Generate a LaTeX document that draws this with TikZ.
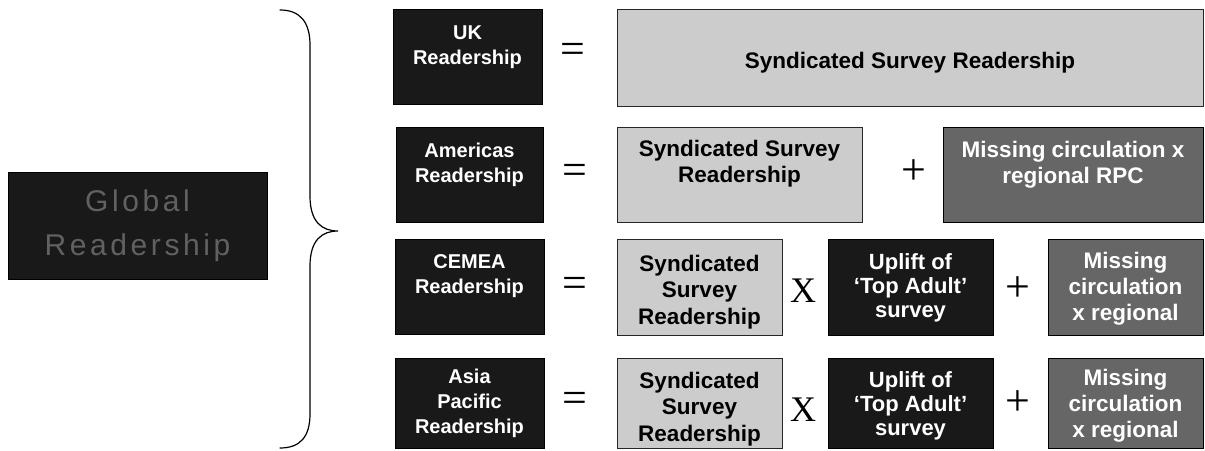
\documentclass[tikz,border=0pt]{standalone}
\usepackage{fontspec}
\setmainfont{Liberation Sans}
\newfontfamily\opfont{Liberation Serif}
\newfontfamily\globfont[LetterSpace=12]{Liberation Sans}
\begin{document}
\begin{tikzpicture}[x=1pt,y=-1pt,
  darklab/.style={draw=black, fill=black!90, inner sep=0pt},
  darktxt/.style={text=white, align=center, inner sep=0pt,
    font=\fontsize{20}{25}\selectfont\bfseries},
  lightbox/.style={draw=black!85, line width=0.8pt, fill=black!20, inner sep=0pt},
  lighttxt/.style={text=black, align=center, inner sep=0pt,
    font=\fontsize{22.5}{26}\selectfont\bfseries},
  upbox/.style={draw=black, fill=black!90, inner sep=0pt},
  uptxt/.style={text=white, align=center, inner sep=0pt,
    font=\fontsize{22}{24}\selectfont\bfseries},
  missbox/.style={draw=black, fill=black!60, inner sep=0pt},
  misstxt/.style={text=white, align=center, inner sep=0pt,
    font=\fontsize{22.5}{26}\selectfont\bfseries},
  op/.style={inner sep=0pt, font=\fontsize{44}{44}\selectfont\opfont},
  opx/.style={inner sep=0pt, font=\fontsize{36}{36}\selectfont\opfont},
  bracestyle/.style={draw=black, line width=1.2pt, line cap=round}
]
\useasboundingbox (0,0) rectangle (1205,450);

% Global box
\node[draw=black, fill=black!90, text=black!62, align=center, inner sep=0pt,
  minimum width=259pt, minimum height=107pt,
  font=\fontsize{30}{44}\selectfont\globfont] (global) at (137.5,226) {Global\\Readership};

% Brace
\path[bracestyle] (280,10) .. controls (300,10) and (310,22) .. (310,45)
  -- (310,196) .. controls (310,222) and (322,231) .. (338,231)
  .. controls (322,231) and (310,240) .. (310,266)
  -- (310,414) .. controls (310,437) and (300,448) .. (280,448);

% Left labels
\node[darklab, minimum width=149pt, minimum height=95pt] (uk) at (467.5,56.5) {};
\node[darktxt] (ukt) at ([yshift=9pt]uk.center) {UK\\Readership};
\node[darklab, minimum width=147pt, minimum height=95pt] (am) at (469.5,174.5) {};
\node[darktxt] (amt) at ([yshift=10pt]am.center) {Americas\\Readership};
\node[darklab, minimum width=149pt, minimum height=95pt] (ce) at (469.5,286.5) {};
\node[darktxt] (cet) at ([yshift=10pt]ce.center) {CEMEA\\Readership};
\node[darklab, minimum width=149pt, minimum height=90pt] (as) at (469.5,403) {};
\node[darktxt] (ast) at (as.center) {Asia\\Pacific\\Readership};

% Equals
\node[op] (equk) at (573,53) {=};
\node[op] (eqam) at (575,174) {=};
\node[op] (eqce) at (575,287) {=};
\node[op] (eqas) at (575,402) {=};

% UK row
\node[lightbox, minimum width=586pt, minimum height=97pt] (ukS) at (910,57.5) {};
\node[lighttxt] (ukSt) at ([yshift=-5pt]ukS.center) {Syndicated Survey Readership};

% Americas row
\node[lightbox, minimum width=245pt, minimum height=95pt] (amS) at (739.5,174.5) {};
\node[lighttxt] (amSt) at ([yshift=11pt]amS.center) {Syndicated Survey\\Readership};
\node[op] (plam) at (914,172) {+};
\node[missbox, minimum width=260pt, minimum height=95pt] (amM) at (1073,174.5) {};
\node[misstxt] (amMt) at ([yshift=10pt]amM.center) {Missing circulation x\\regional RPC};

% CEMEA row
\node[lightbox, minimum width=165pt, minimum height=96pt] (ceS) at (699.5,287) {};
\node[lighttxt, font=\fontsize{22.5}{26.5}\selectfont\bfseries] (ceSt) at ([yshift=-5pt]ceS.center) {Syndicated\\Survey\\Readership};
\node[opx] (xce) at (803,291) {X};
\node[upbox, minimum width=165pt, minimum height=96pt] (ceU) at (910.5,287) {};
\node[uptxt] (ceUt) at ([yshift=-1pt]ceU.center) {Uplift of\\‘Top Adult’\\survey};
\node[op] (plce) at (1018,289) {+};
\node[missbox, minimum width=155pt, minimum height=96pt] (ceM) at (1125.5,287) {};
\node[misstxt] (ceMt) at ([yshift=-2pt]ceM.center) {Missing\\circulation\\x regional};

% Asia row
\node[lightbox, minimum width=165pt, minimum height=90pt] (asS) at (699.5,403) {};
\node[lighttxt, font=\fontsize{22.5}{26.5}\selectfont\bfseries] (asSt) at ([yshift=-6pt]asS.center) {Syndicated\\Survey\\Readership};
\node[opx] (xas) at (803,410) {X};
\node[upbox, minimum width=165pt, minimum height=90pt] (asU) at (910.5,403) {};
\node[uptxt] (asUt) at ([yshift=-3pt]asU.center) {Uplift of\\‘Top Adult’\\survey};
\node[op] (plas) at (1018,403) {+};
\node[missbox, minimum width=155pt, minimum height=90pt] (asM) at (1125.5,403) {};
\node[misstxt] (asMt) at ([yshift=-3pt]asM.center) {Missing\\circulation\\x regional};
\end{tikzpicture}
\end{document}
